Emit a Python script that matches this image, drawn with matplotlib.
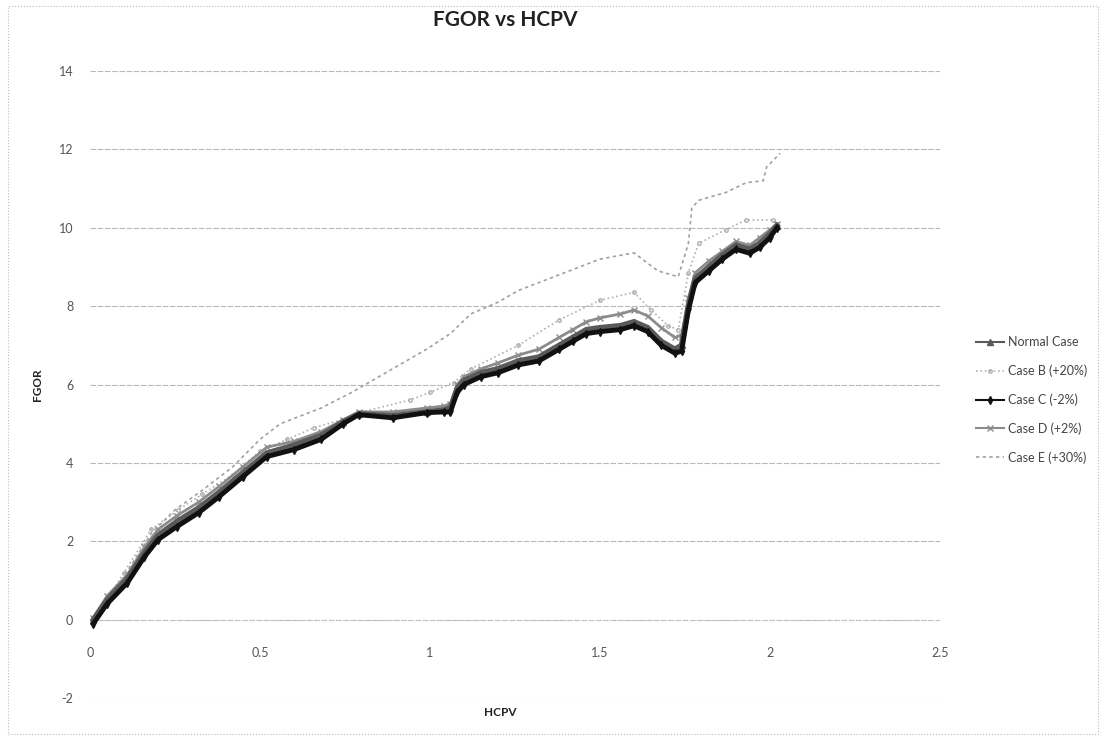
import matplotlib
matplotlib.use("Agg")
import matplotlib.pyplot as plt
from matplotlib.patches import Rectangle

plt.rcParams['font.family'] = ['Lato', 'DejaVu Sans']

title = "FGOR vs HCPV"
x_label = "HCPV"
y_label = "FGOR"
x_ticks = [0, 0.5, 1, 1.5, 2, 2.5]
y_ticks = [-2, 0, 2, 4, 6, 8, 10, 12, 14]

# Case C (-2%) - main dark band
hcpv_c = [0.01, 0.05, 0.11, 0.16, 0.20, 0.255, 0.32, 0.38, 0.45, 0.52, 0.60, 0.68, 0.745, 0.79,
          0.89, 0.99, 1.04, 1.06, 1.08, 1.10, 1.15, 1.20, 1.26, 1.32, 1.38, 1.42, 1.46, 1.50, 1.56,
          1.60, 1.64, 1.68, 1.72, 1.74, 1.76, 1.78, 1.82, 1.86, 1.90, 1.94, 1.97, 2.00, 2.02]
fgor_c = [-0.1, 0.4, 0.94, 1.6, 2.04, 2.37, 2.73, 3.14, 3.65, 4.16, 4.34, 4.6, 5.0, 5.23,
          5.15, 5.28, 5.3, 5.3, 5.8, 6.0, 6.2, 6.3, 6.5, 6.6, 6.9, 7.1, 7.3, 7.35, 7.4,
          7.5, 7.35, 7.0, 6.8, 6.85, 7.9, 8.6, 8.9, 9.2, 9.45, 9.35, 9.5, 9.75, 10.0]

# Normal Case
hcpv_n = [0.01, 0.05, 0.11, 0.16, 0.20, 0.255, 0.32, 0.38, 0.45, 0.52, 0.60, 0.68, 0.745, 0.79,
          0.89, 0.99, 1.04, 1.06, 1.08, 1.10, 1.15, 1.20, 1.26, 1.32, 1.38, 1.42, 1.46, 1.50, 1.56,
          1.60, 1.64, 1.68, 1.72, 1.74, 1.76, 1.78, 1.82, 1.86, 1.90, 1.94, 1.97, 2.00, 2.02]
fgor_n = [0.0, 0.5, 1.05, 1.7, 2.15, 2.5, 2.85, 3.25, 3.75, 4.25, 4.45, 4.7, 5.05, 5.25,
          5.2, 5.3, 5.35, 5.4, 5.9, 6.1, 6.3, 6.4, 6.6, 6.7, 7.0, 7.2, 7.4, 7.45, 7.5,
          7.6, 7.45, 7.1, 6.9, 7.0, 8.0, 8.7, 9.0, 9.3, 9.55, 9.45, 9.6, 9.85, 10.05]

# Case D (+2%)
hcpv_d = [0.01, 0.05, 0.11, 0.16, 0.20, 0.255, 0.32, 0.38, 0.45, 0.52, 0.60, 0.68, 0.745, 0.79,
          0.89, 0.99, 1.04, 1.06, 1.08, 1.10, 1.15, 1.20, 1.26, 1.32, 1.38, 1.42, 1.46, 1.50, 1.56,
          1.60, 1.64, 1.68, 1.72, 1.74, 1.76, 1.78, 1.82, 1.86, 1.90, 1.94, 1.97, 2.00, 2.02]
fgor_d = [0.05, 0.6, 1.15, 1.85, 2.3, 2.65, 3.0, 3.4, 3.9, 4.4, 4.55, 4.8, 5.1, 5.3,
          5.3, 5.4, 5.45, 5.5, 6.0, 6.2, 6.4, 6.55, 6.75, 6.9, 7.2, 7.4, 7.6, 7.7, 7.8,
          7.9, 7.75, 7.45, 7.2, 7.25, 8.2, 8.85, 9.15, 9.4, 9.65, 9.55, 9.75, 9.95, 10.1]

# Case B (+20%)
hcpv_b = [0.02, 0.10, 0.18, 0.26, 0.33, 0.42, 0.50, 0.58, 0.66, 0.74, 0.80, 0.94, 1.00, 1.07,
          1.12, 1.26, 1.38, 1.50, 1.60, 1.65, 1.70, 1.73, 1.76, 1.79, 1.87, 1.93, 2.01, 2.02]
fgor_b = [0.1, 1.2, 2.3, 2.8, 3.2, 3.7, 4.3, 4.6, 4.9, 5.1, 5.3, 5.6, 5.8, 6.05,
          6.4, 7.0, 7.65, 8.15, 8.35, 7.9, 7.5, 7.4, 8.85, 9.6, 9.95, 10.2, 10.2, 10.1]

# Case E (+30%)
hcpv_e = [0.02, 0.10, 0.18, 0.25, 0.33, 0.42, 0.50, 0.56, 0.62, 0.68, 0.77, 0.89, 0.99, 1.06,
          1.12, 1.20, 1.26, 1.38, 1.50, 1.60, 1.67, 1.73, 1.76, 1.77, 1.79, 1.87, 1.93, 1.98,
          1.99, 2.03]
fgor_e = [0.0, 1.1, 2.2, 2.8, 3.3, 3.9, 4.6, 5.0, 5.2, 5.4, 5.8, 6.4, 6.9, 7.3,
          7.8, 8.1, 8.4, 8.8, 9.2, 9.36, 8.9, 8.75, 9.6, 10.5, 10.7, 10.9, 11.15, 11.2,
          11.55, 11.9]

fig = plt.figure(figsize=(11.06, 7.4), dpi=100)
ax = fig.add_axes([90 / 1106, 1 - 698 / 740, 850 / 1106, (698 - 71) / 740])

ax.plot(hcpv_n, fgor_n, color='#5a5a5a', lw=4, marker='^', ms=5, label='Normal Case', zorder=3)
ax.plot(hcpv_b, fgor_b, color='#b0b0b0', lw=1.2, ls=':', marker='o', ms=2.5, mfc='none',
        label='Case B (+20%)', zorder=2)
ax.plot(hcpv_c, fgor_c, color='#111111', lw=3.5, marker='d', ms=4, label='Case C (-2%)', zorder=4)
ax.plot(hcpv_d, fgor_d, color='#8c8c8c', lw=2, marker='x', ms=4, label='Case D (+2%)', zorder=2)
ax.plot(hcpv_e, fgor_e, color='#a0a0a0', lw=1.2, ls=(0, (2, 2)), label='Case E (+30%)', zorder=2)

ax.set_xlim(0, 2.5)
ax.set_ylim(-2, 14)
ax.set_xticks(x_ticks)
ax.set_xticklabels([f"{t:g}" for t in x_ticks])
ax.set_yticks(y_ticks)
ax.set_yticklabels([f"{t:g}" for t in y_ticks])
ax.grid(axis='y', color='#b8b8b8', lw=0.8, ls=(0, (5, 1.5)))
ax.set_axisbelow(True)
for s in ['top', 'right', 'left']:
    ax.spines[s].set_visible(False)
ax.spines['bottom'].set_position(('data', 0))
ax.spines['bottom'].set_color('#c8c8c8')
ax.spines['bottom'].set_linestyle((0, (2, 4)))
ax.tick_params(axis='x', length=0, pad=20, labelsize=9, labelcolor='#555555')
ax.tick_params(axis='y', length=0, pad=12, labelsize=9, labelcolor='#555555')

fig.text(505 / 1106, 1 - 20 / 740, title, ha='center', va='center', fontsize=15,
         fontweight='bold', color='#222222')
fig.text(500 / 1106, 1 - 712 / 740, x_label, ha='center', va='center', fontsize=8.5,
         fontweight='bold', color='#222222')
fig.text(38 / 1106, 1 - 385 / 740, y_label, ha='center', va='center', fontsize=8.5,
         fontweight='bold', color='#222222', rotation=90)

leg = ax.legend(loc='center left', bbox_to_anchor=(965 / 1106, 1 - 400 / 740),
                bbox_transform=fig.transFigure, frameon=False, fontsize=9,
                labelspacing=1.3, handlelength=2.2, handletextpad=0.3)
for t in leg.get_texts():
    t.set_color('#444444')
for h in leg.get_lines():
    h.set_linewidth(min(h.get_linewidth(), 1.5))

fig.patches.append(Rectangle((8 / 1106, 6 / 740), 1 - 16 / 1106, 1 - 12 / 740,
                             transform=fig.transFigure, fill=False, ec='#bbbbbb',
                             lw=0.8, ls=':'))

fig.savefig('out.png', dpi=100)
